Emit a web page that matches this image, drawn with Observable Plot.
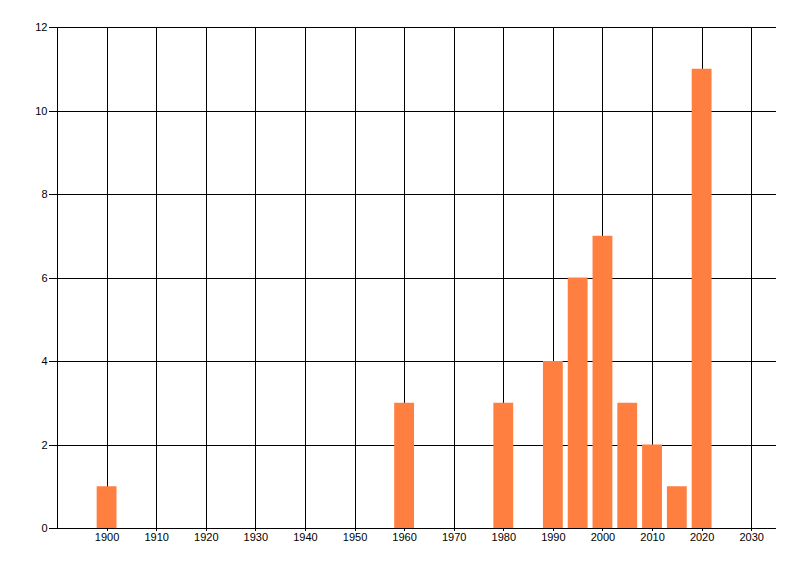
<!DOCTYPE html>
<html>
<head>
<meta charset="utf-8">
<script src="https://cdn.jsdelivr.net/npm/d3@7"></script>
<script src="https://cdn.jsdelivr.net/npm/@observablehq/plot@0.6"></script>
<style>
  body { margin: 0; background: #fff; }
  svg line, svg path { shape-rendering: crispEdges; }
</style>
</head>
<body>
<script>
// year of each bar and how many it counts
const years = [1900, 1960, 1980, 1990, 1995, 2000, 2005, 2010, 2015, 2020];
const counts = [1, 3, 3, 4, 6, 7, 3, 2, 1, 11];
const xTicks = d3.range(1900, 2031, 10);
const yTicks = [0, 2, 4, 6, 8, 10, 12];

const bars = years.map((year, i) => ({ year, count: counts[i] }));

document.body.append(
  Plot.plot({
    width: 800,
    height: 576,
    marginLeft: 57,
    marginRight: 24,
    marginTop: 27,
    marginBottom: 48,
    style: {
      background: "#fff",
      fontFamily: "'Liberation Sans', Arial, sans-serif",
      fontSize: "11px",
      color: "#000",
    },
    x: { domain: [1890, 2035] },
    y: { domain: [0, 12] },
    marks: [
      Plot.ruleX(xTicks, { stroke: "#000", strokeWidth: 1 }),
      Plot.ruleX([1890], { stroke: "#000", strokeWidth: 1 }),
      Plot.ruleY(yTicks, { stroke: "#000", strokeWidth: 1 }),
      Plot.rectY(bars, {
        x1: (d) => d.year - 2,
        x2: (d) => d.year + 2,
        y: "count",
        fill: "#ff7f41",
      }),
      Plot.axisX({
        ticks: xTicks,
        tickFormat: (d) => String(d),
        tickSize: 3,
        tickPadding: 2,
        stroke: "#000",
        label: null,
      }),
      Plot.axisY({
        ticks: yTicks,
        tickSize: 8,
        tickPadding: 2,
        stroke: "#000",
        label: null,
      }),
    ],
  })
);
</script>
</body>
</html>
